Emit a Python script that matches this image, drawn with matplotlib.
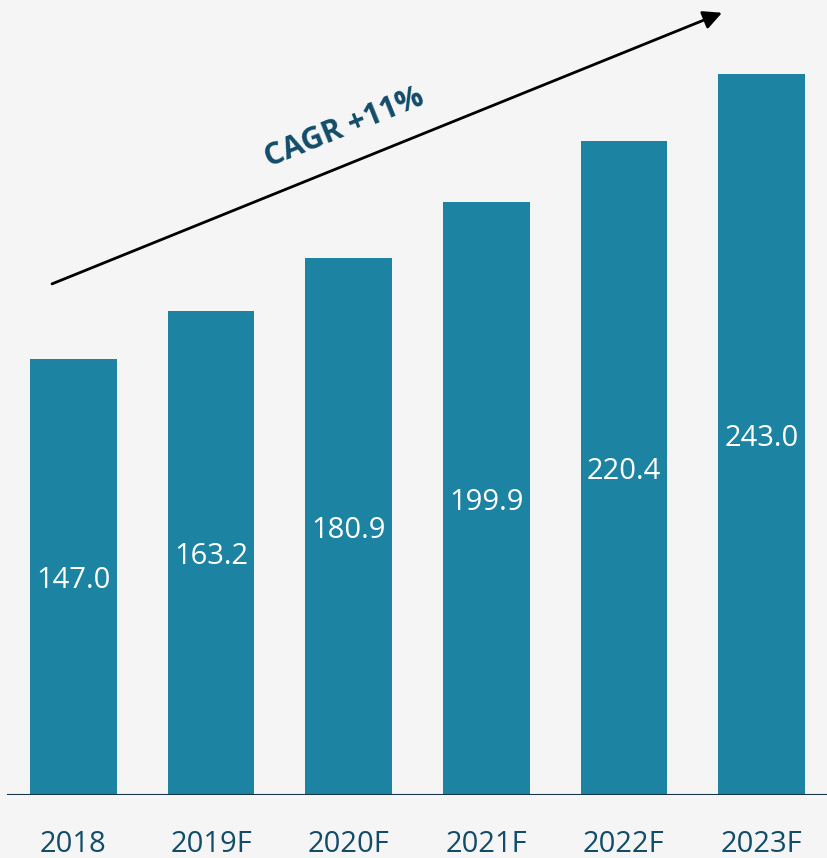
import matplotlib
matplotlib.use("Agg")
import matplotlib.pyplot as plt

years = ["2018", "2019F", "2020F", "2021F", "2022F", "2023F"]
values = [147.0, 163.2, 180.9, 199.9, 220.4, 243.0]
cagr_label = "CAGR +11%"

bar_color = "#1c83a2"
text_dark = "#114c69"
bg = "#f5f5f5"

plt.rcParams["font.family"] = ["Open Sans", "DejaVu Sans"]

fig = plt.figure(figsize=(8.27, 8.58), dpi=100, facecolor=bg)
ax = fig.add_axes([0, 63 / 858, 1, 795 / 858], facecolor=bg)

x = list(range(len(years)))
ax.bar(x, values, width=0.63, color=bar_color, zorder=2)

for xi, v in zip(x, values):
    ax.text(xi, v / 2, f"{v:.1f}", ha="center", va="center_baseline",
            color="white", fontsize=21)

ax.set_xlim(-0.534, 5.476)
ax.set_ylim(0, 268)

# baseline
ax.axhline(0, xmin=8 / 827, xmax=1, color="#15344a", lw=1.5, zorder=3)

for s in ax.spines.values():
    s.set_visible(False)
ax.set_yticks([])
ax.set_xticks(x)
ax.set_xticklabels(years, fontsize=21, color=text_dark)
ax.tick_params(axis="x", length=0, pad=25)

# growth arrow
ax.annotate("", xy=(4.713, 263.7), xytext=(-0.156, 172.3),
            arrowprops=dict(arrowstyle="-|>", color="black", lw=2,
                            mutation_scale=28, shrinkA=0, shrinkB=0),
            annotation_clip=False)
ax.text(1.966, 224.9, cagr_label, rotation=22, rotation_mode="anchor",
        ha="center", va="center", fontsize=22, fontweight="bold",
        color=text_dark)

fig.savefig("out.png", dpi=100, facecolor=bg)
